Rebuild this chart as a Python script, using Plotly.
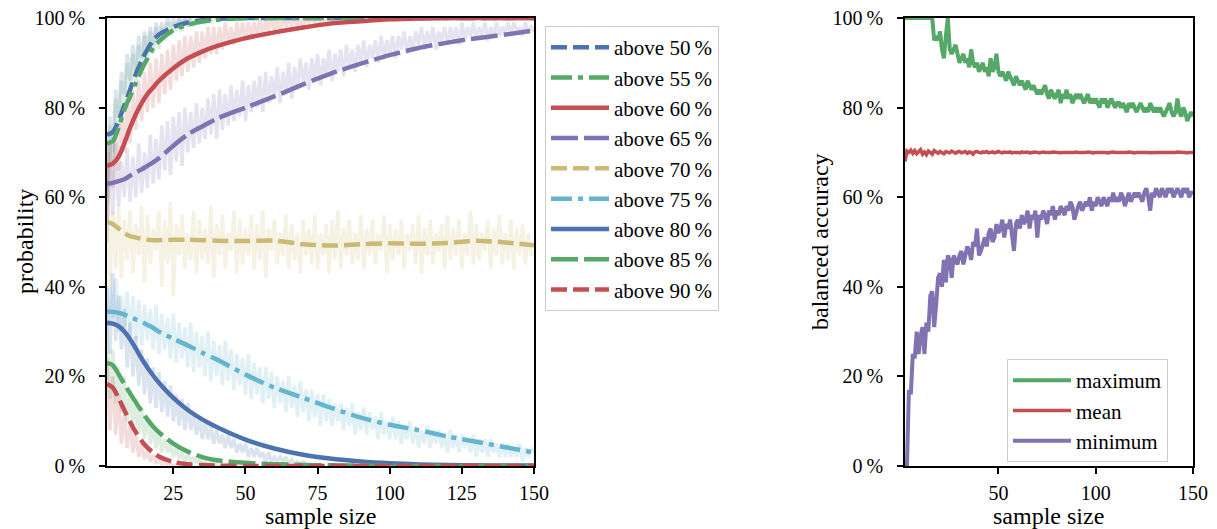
import plotly.graph_objects as go

# ---------------- data: left panel ----------------
THRESHOLDS = ["above 50\u2009%", "above 55\u2009%", "above 60\u2009%", "above 65\u2009%", "above 70\u2009%",
              "above 75\u2009%", "above 80\u2009%", "above 85\u2009%", "above 90\u2009%"]

SMOOTH_X = [2, 4, 6, 8, 10, 12, 14, 16, 18, 20, 25, 30, 35, 40, 50, 60, 70, 80, 90, 100, 110, 120, 130, 140, 150]

smooth_50 = [74, 74.5, 77, 80.5, 84, 87.5, 90.5, 93, 95, 96.3, 98, 99, 99.5, 99.8, 100, 100, 100, 100, 100, 100, 100, 100, 100, 100, 100]
smooth_55 = [72, 72.5, 75.5, 79.5, 82.5, 85.5, 88.5, 91, 93.3, 94.8, 97.3, 98.5, 99.2, 99.6, 100, 100, 100, 100, 100, 100, 100, 100, 100, 100, 100]
smooth_60 = [67, 67.5, 69, 72, 75.5, 78.5, 81, 83, 84.5, 86, 88.8, 91, 92.5, 93.7, 95.5, 96.8, 97.9, 98.8, 99.3, 99.7, 99.9, 100, 100, 100, 100]
smooth_65 = [63, 63.2, 63.6, 64, 64.8, 65.5, 66.2, 67, 67.8, 68.7, 71.5, 74, 75.8, 77.5, 80, 82.5, 85.2, 87.7, 89.8, 91.7, 93.3, 94.5, 95.5, 96.3, 97.2]
smooth_70 = [54.5, 54, 53, 52, 51.3, 51, 50.7, 50.5, 50.4, 50.4, 50.5, 50.5, 50.4, 50.3, 50.2, 50.3, 49.5, 49.2, 49.5, 49.7, 49.6, 49.8, 50.3, 49.9, 49.3]
smooth_75 = [34.5, 34.4, 34.2, 33.8, 33.3, 32.7, 32.2, 31.5, 30.8, 30, 28.4, 26.9, 25.3, 23.8, 20.4, 17.5, 15.2, 12.9, 10.8, 9.2, 8, 6.6, 5.4, 4.2, 3]
smooth_80 = [32, 31.8, 31.2, 30, 28.3, 26.2, 24, 22, 20.2, 18.6, 15.2, 12.5, 10.4, 8.7, 5.9, 3.9, 2.5, 1.6, 1.0, 0.6, 0.35, 0.2, 0.15, 0.1, 0.1]
smooth_85 = [23, 22.5, 20.5, 18.3, 16.2, 14.2, 12.3, 10.4, 8.8, 7.5, 5, 3.2, 2, 1.3, 0.7, 0.4, 0.25, 0.15, 0.1, 0.05, 0, 0, 0, 0, 0]
smooth_90 = [18.3, 17.5, 15.2, 12.5, 9.8, 7.5, 5.6, 4.1, 3, 2.1, 0.9, 0.4, 0.2, 0.1, 0, 0, 0, 0, 0, 0, 0, 0, 0, 0, 0]

RAW_X = list(range(2, 151))

raw_50 = [60, 78, 70, 84, 78, 88, 83, 92, 86, 94,
          88, 96, 91, 97, 93, 98, 94, 99, 96, 99,
          97, 100, 98, 100, 98, 100, 99, 100, 99, 100]
raw_55 = [58, 76, 68, 82, 75, 86, 80, 90, 83, 92,
          85, 94, 88, 96, 90, 97, 92, 98, 93, 98,
          95, 99, 96, 99, 97, 100, 97, 100, 98, 100,
          98, 100, 99, 100, 99, 100, 99, 100, 100, 100]
raw_60 = [55, 72, 62, 75, 66, 79, 70, 82, 72, 84,
          75, 86, 77, 88, 79, 90, 80, 91, 81, 92,
          83, 93, 84, 94, 86, 95, 87, 96, 88, 96,
          89, 97, 90, 97, 91, 98, 92, 98, 92, 98,
          93, 99, 94, 98, 94, 99, 95, 99, 95, 99,
          96, 99, 96, 100, 96, 100, 97, 100, 97, 100,
          97, 100, 98, 100, 98, 100, 98, 100, 98, 100,
          99, 100, 99, 100, 99, 100, 99, 100, 99, 100]
raw_65 = [50, 70, 56, 72, 58, 68, 60, 71, 59, 69,
          60, 72, 61, 70, 62, 74, 63, 73, 64, 76,
          66, 77, 65, 78, 68, 79, 67, 80, 70, 79,
          71, 81, 72, 80, 73, 82, 74, 83, 73, 84,
          75, 83, 76, 85, 77, 84, 78, 86, 77, 85,
          79, 86, 80, 87, 79, 88, 81, 87, 82, 89,
          81, 88, 83, 90, 82, 89, 84, 91, 85, 90,
          84, 91, 86, 92, 85, 91, 87, 93, 86, 92,
          88, 93, 87, 94, 89, 93, 88, 94, 90, 95,
          89, 94, 91, 95, 90, 96, 91, 95, 92, 96,
          91, 96, 93, 97, 92, 96, 93, 97, 94, 98,
          93, 97, 94, 98, 93, 97, 95, 98, 94, 98,
          95, 98, 94, 99, 95, 98, 96, 99, 95, 98,
          96, 99, 95, 98, 96, 99, 96, 98, 97, 99,
          96, 99, 97, 98, 96, 99, 97, 98, 97]
raw_70 = [62, 40, 57, 44, 58, 42, 55, 46, 57, 43,
          54, 47, 58, 41, 56, 45, 53, 48, 57, 40,
          55, 45, 59, 38, 54, 47, 56, 44, 52, 46,
          57, 43, 55, 46, 53, 45, 58, 42, 54, 47,
          56, 44, 52, 48, 57, 43, 55, 45, 53, 47,
          56, 44, 54, 46, 57, 42, 53, 48, 55, 45,
          52, 47, 56, 44, 54, 46, 52, 43, 55, 47,
          53, 45, 56, 44, 52, 47, 54, 43, 55, 46,
          57, 44, 53, 47, 55, 45, 52, 46, 56, 44,
          53, 47, 55, 45, 52, 48, 56, 43, 54, 46,
          53, 47, 55, 44, 52, 48, 54, 45, 56, 43,
          53, 47, 55, 45, 52, 48, 54, 44, 56, 46,
          53, 47, 55, 44, 52, 47, 57, 45, 54, 46,
          52, 48, 55, 44, 53, 47, 56, 45, 52, 46,
          55, 44, 53, 47, 54, 45, 52, 47, 48]
raw_75 = [30, 40, 33, 42, 30, 38, 31, 39, 29, 38,
          28, 37, 27, 36, 28, 35, 26, 36, 25, 34,
          26, 33, 24, 34, 23, 32, 24, 31, 22, 32,
          21, 30, 22, 29, 20, 30, 19, 28, 20, 27,
          18, 28, 19, 26, 17, 25, 18, 24, 16, 25,
          15, 23, 16, 22, 14, 22, 15, 21, 13, 20,
          14, 19, 12, 20, 13, 18, 11, 19, 12, 17,
          10, 17, 11, 16, 9, 16, 10, 15, 9, 14,
          10, 14, 8, 13, 9, 14, 7, 12, 8, 13,
          7, 12, 8, 11, 6, 12, 7, 10, 6, 11,
          6, 10, 5, 9, 6, 10, 5, 9, 4, 8,
          5, 9, 4, 8, 5, 8, 4, 7, 3, 8,
          4, 7, 3, 7, 4, 6, 3, 7, 2, 6,
          3, 6, 2, 6, 3, 5, 2, 5, 2, 5,
          2, 4, 2, 5, 1, 4, 2, 4, 3]
raw_80 = [40, 25, 43, 28, 38, 26, 35, 22, 32, 20,
          29, 18, 26, 16, 24, 14, 22, 13, 21, 12,
          19, 11, 18, 10, 16, 9, 15, 8, 14, 8,
          12, 7, 11, 6, 10, 6, 9, 5, 8, 5,
          7, 4, 7, 4, 6, 3, 5, 3, 5, 2,
          4, 2, 4, 2, 3, 1, 3, 1, 2, 1,
          2, 1, 2, 0.5, 1.5, 0.5, 1, 0.5, 1, 0.3]
raw_85 = [30, 15, 26, 14, 22, 12, 20, 10, 17, 8,
          15, 7, 13, 6, 11, 5, 9, 4, 8, 3,
          6, 3, 5, 2, 4, 1.5, 3, 1, 2.5, 1,
          2, 0.5, 1.5, 0.5, 1, 0.3, 0.8, 0.2, 0.5, 0.1]
raw_90 = [24, 8, 20, 7, 16, 5, 12, 4, 9, 3,
          7, 2, 5, 1.5, 3.5, 1, 2.5, 0.5, 1.5, 0.3,
          1, 0.2, 0.5, 0, 0.3, 0, 0.1, 0, 0, 0]

# ---------------- data: right panel ----------------
ACC_X = list(range(2, 151))
acc_max = [100, 100, 100, 100, 100, 100, 100, 100, 100, 100,
           100, 100, 100, 100, 100, 95, 96, 95, 97, 93,
           91, 96, 100, 93, 92, 93, 94, 92, 90, 91,
           92, 90, 91, 89, 93, 90, 89, 90, 88, 89,
           90, 88, 89, 87, 91, 88, 89, 92, 88, 87,
           88, 87, 86, 88, 87, 86, 85, 87, 86, 85,
           86, 85, 84, 86, 85, 84, 85, 84, 83, 84,
           83, 84, 85, 83, 82, 84, 83, 82, 83, 84,
           81, 83, 82, 84, 82, 83, 81, 82, 83, 82,
           83, 82, 81, 82, 83, 81, 82, 81, 82, 81,
           80, 82, 81, 82, 80, 81, 82, 81, 80, 81,
           81, 80, 81, 80, 79, 81, 80, 81, 80, 79,
           80, 81, 80, 79, 80, 79, 81, 80, 79, 80,
           79, 80, 79, 78, 79, 80, 81, 79, 78, 79,
           82, 79, 78, 80, 79, 77, 78, 79, 78]
acc_mean = [68, 70.3, 70, 70.5, 69.8, 70.4, 69.7, 70.2, 70.6, 69.6,
            70.1, 69.5, 70.3, 70.0, 69.6, 70.4, 70.1, 69.8, 70.2, 70.0,
            69.7, 70.2, 70.1, 69.9, 70.3, 70.0, 69.8, 70.1, 70.2, 69.9,
            70.0, 70.2, 69.8, 70.1, 70.0, 69.6, 70.1, 70.2, 70.0, 69.9,
            70.1, 70.0, 70.2, 69.9, 70.0, 70.1, 69.9, 70.0, 70.2, 70.0,
            69.9, 70.1, 70.0, 70.0, 70.1, 69.9, 70.0, 70.1, 70.0, 69.9,
            70.1, 70.0, 70.0, 70.1, 69.9, 70.0, 70.0, 70.1, 70.0, 69.9,
            70.0, 70.1, 70.0, 70.0, 69.9, 70.0, 70.1, 70.0, 70.0, 70.0,
            69.9, 70.0, 70.1, 70.0, 70.0, 69.9, 70.0, 70.0, 70.1, 70.0,
            70.0, 69.9, 70.0, 70.0, 70.1, 70.0, 70.0, 69.9, 70.0, 70.0,
            70.1, 70.0, 70.0, 70.0, 69.9, 70.0, 70.0, 70.1, 70.0, 70.0,
            70.0, 69.9, 70.0, 70.0, 70.0, 70.1, 70.0, 70.0, 69.9, 70.0,
            70.0, 70.0, 70.1, 70.0, 70.0, 70.0, 69.9, 70.0, 70.0, 70.0,
            70.0, 70.1, 70.0, 70.0, 70.0, 69.9, 70.0, 70.0, 70.0, 70.0,
            70.1, 70.0, 70.0, 70.0, 70.0, 69.9, 70.0, 70.0, 70.0]
acc_min = [0, 0, 17, 16, 25, 24, 30, 25, 29, 31,
           25, 32, 30, 38, 39, 31, 36, 42, 43, 40,
           46, 41, 47, 46, 42, 47, 46, 45, 47, 48,
           45, 47, 49, 48, 46, 50, 49, 53, 47, 48,
           50, 51, 49, 52, 53, 50, 51, 54, 52, 53,
           55, 51, 54, 53, 55, 52, 48, 54, 55, 53,
           56, 54, 55, 57, 53, 56, 55, 57, 51, 56,
           55, 57, 56, 54, 57, 56, 58, 55, 57, 56,
           58, 57, 56, 58, 57, 59, 58, 55, 57, 58,
           59, 57, 58, 59, 58, 60, 57, 59, 58, 60,
           59, 58, 60, 59, 58, 60, 59, 61, 59, 60,
           59, 61, 60, 58, 60, 61, 59, 60, 61, 60,
           61, 60, 59, 61, 62, 60, 57, 61, 60, 62,
           61, 60, 62, 61, 60, 62, 61, 62, 60, 61,
           62, 61, 60, 62, 61, 62, 60, 61, 61]
ACC_NAMES = ["maximum", "mean", "minimum"]

Y_TICKS = [0, 20, 40, 60, 80, 100]
X_TICKS_LEFT = [25, 50, 75, 100, 125, 150]
X_TICKS_RIGHT = [50, 100, 150]

# ---------------- styles ----------------
BLUE, GREEN, RED, PURPLE, YELLOW, CYAN = "#4C72B0", "#55A868", "#C44E52", "#8172B2", "#CCB974", "#64B5CD"
DASH = "16px,6px"
DASHDOT = "21px,6px,5px,6px"
LONGDASH = "27px,6px"


def rgba(hex_color, a):
    h = hex_color.lstrip("#")
    return "rgba(%d,%d,%d,%s)" % (int(h[0:2], 16), int(h[2:4], 16), int(h[4:6], 16), a)


series = [
    (smooth_50, raw_50, BLUE, DASH),
    (smooth_55, raw_55, GREEN, DASHDOT),
    (smooth_60, raw_60, RED, "solid"),
    (smooth_65, raw_65, PURPLE, LONGDASH),
    (smooth_70, raw_70, YELLOW, DASH),
    (smooth_75, raw_75, CYAN, DASHDOT),
    (smooth_80, raw_80, BLUE, "solid"),
    (smooth_85, raw_85, GREEN, LONGDASH),
    (smooth_90, raw_90, RED, DASH),
]

FONT = "Liberation Serif"
fig = go.Figure()

for smooth, raw, col, dash in series:
    fig.add_trace(go.Scatter(x=RAW_X[:len(raw)], y=raw, mode="lines",
                             line=dict(color=rgba(col, 0.2), width=3.5),
                             showlegend=False, hoverinfo="skip", xaxis="x", yaxis="y"))

for name, (smooth, raw, col, dash) in zip(THRESHOLDS, series):
    fig.add_trace(go.Scatter(x=SMOOTH_X, y=smooth, mode="lines", name=name,
                             line=dict(color=col, width=4.5, dash=dash, shape="spline", smoothing=0.8),
                             legend="legend", legendgroup=name, xaxis="x", yaxis="y"))

for name, vals, col, w in zip(ACC_NAMES, [acc_max, acc_mean, acc_min], [GREEN, RED, PURPLE], [4, 3.5, 4]):
    fig.add_trace(go.Scatter(x=ACC_X, y=vals, mode="lines", name=name,
                             line=dict(color=col, width=w),
                             legend="legend2", legendgroup=name, xaxis="x2", yaxis="y2"))

# page offset (body margin) compensation: figure occupies window pixels [OFF, 1217] x [OFF, 529]
OFF = 8
W, H = 1217 - OFF, 529 - OFF


def px(x):
    return (x - OFF) / W


def py(y):
    return 1 - (y - OFF) / H


axis_common = dict(showline=True, linecolor="black", linewidth=1.5, mirror=True,
                   ticks="outside", ticklen=6, tickwidth=1.5, tickcolor="black",
                   showgrid=False, zeroline=False, automargin=False, ticklabeloverflow="allow",
                   layer="above traces",
                   tickfont=dict(family=FONT, size=20, color="black"))

legend_common = dict(xanchor="left", yanchor="top", bordercolor="#cccccc", borderwidth=1,
                     bgcolor="white", font=dict(family=FONT, size=21, color="black"),
                     tracegroupgap=0, itemwidth=58)

title_font = dict(family=FONT, size=24, color="black")

fig.update_layout(
    width=W, height=H,
    margin=dict(l=0, r=0, t=0, b=0, autoexpand=False),
    paper_bgcolor="white", plot_bgcolor="white",
    font=dict(family=FONT, color="black"),
    xaxis=dict(domain=[px(107), px(534)], range=[2, 150], tickvals=X_TICKS_LEFT, anchor="y",
               ticklabelstandoff=2, **axis_common),
    yaxis=dict(domain=[py(466), py(18)], range=[0, 100], tickvals=Y_TICKS,
               ticktext=["%d\u2009%%" % v for v in Y_TICKS], anchor="x", ticklabelstandoff=10, **axis_common),
    xaxis2=dict(domain=[px(905), px(1193)], range=[2, 150], tickvals=X_TICKS_RIGHT, anchor="y2",
                ticklabelstandoff=2, **axis_common),
    yaxis2=dict(domain=[py(466), py(18)], range=[0, 100], tickvals=Y_TICKS,
                ticktext=["%d\u2009%%" % v for v in Y_TICKS], anchor="x2", ticklabelstandoff=10, **axis_common),
    legend=dict(x=px(545), y=py(26), **legend_common),
    legend2=dict(x=px(1007), y=py(359), **legend_common),
    annotations=[
        dict(text="probability", x=px(25), y=py(242), xref="paper", yref="paper",
             xanchor="center", yanchor="middle", textangle=-90, showarrow=False, font=title_font),
        dict(text="sample size", x=px(320), y=py(516), xref="paper", yref="paper",
             xanchor="center", yanchor="middle", showarrow=False, font=title_font),
        dict(text="balanced accuracy", x=px(820), y=py(242), xref="paper", yref="paper",
             xanchor="center", yanchor="middle", textangle=-90, showarrow=False, font=title_font),
        dict(text="sample size", x=px(1048), y=py(516), xref="paper", yref="paper",
             xanchor="center", yanchor="middle", showarrow=False, font=title_font),
    ],
)

fig.write_html("out.html")
